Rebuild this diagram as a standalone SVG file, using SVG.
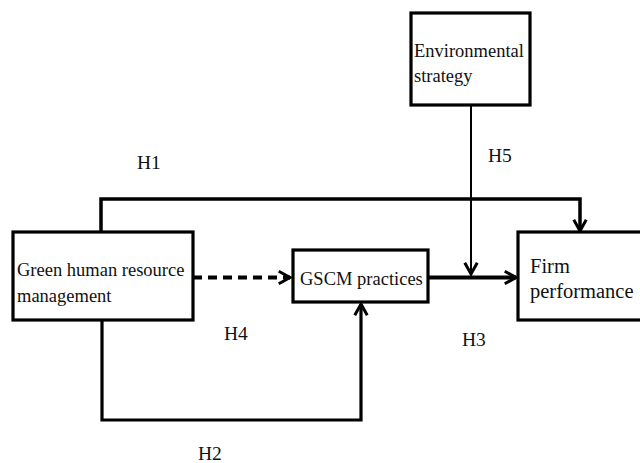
<svg xmlns="http://www.w3.org/2000/svg" width="640" height="463" viewBox="0 0 640 463">
<style>
.box{fill:#fff;stroke:#000;stroke-width:3.2}
.t{font-family:"Liberation Serif","Times New Roman",serif;font-size:18.5px;fill:#111}
.big{font-size:20.5px}
.lbl{font-family:"Liberation Serif","Times New Roman",serif;font-size:19.5px;fill:#111}
.c{fill:none;stroke:#000;stroke-linejoin:miter}
</style>
<defs>
<marker id="arr" markerUnits="userSpaceOnUse" markerWidth="20" markerHeight="20" refX="0" refY="0" orient="auto" viewBox="-12 -8 14 16" style="overflow:visible">
<path d="M-9,-5 L0,0 L-9,5" fill="none" stroke="#000" stroke-width="2.4"/>
</marker>
</defs>
<g id="connectors">
<path id="h1" class="c" d="M101,232 V199 H580 V231" stroke-width="3.5" marker-end="url(#arr)"/>
<path id="h5" class="c" d="M471,105 V274" stroke-width="2" marker-end="url(#arr)"/>
<path id="h3" class="c" d="M428,277.5 H516" stroke-width="4" marker-end="url(#arr)"/>
<path id="h4" class="c" d="M193,277.5 H290" stroke-width="4" stroke-dasharray="9,6" marker-end="url(#arr)"/>
<path id="h2" class="c" d="M102,320 V420 H361 V304" stroke-width="3.2" marker-end="url(#arr)"/>
</g>
<g id="env">
<rect class="box" x="411" y="13" width="119" height="92"/>
<text class="t" x="414" y="57">Environmental</text>
<text class="t" x="414" y="82">strategy</text>
</g>
<g id="ghrm">
<rect class="box" x="13" y="232" width="180" height="88"/>
<text class="t" x="17" y="276">Green human resource</text>
<text class="t" x="17" y="302">management</text>
</g>
<g id="gscm">
<rect class="box" x="293" y="250" width="135" height="52"/>
<text class="t" x="300" y="285">GSCM practices</text>
</g>
<g id="firm">
<rect class="box" x="518" y="232" width="130" height="88"/>
<text class="t big" x="530" y="273">Firm</text>
<text class="t big" x="530" y="298">performance</text>
</g>
<g id="labels">
<text class="lbl" x="137" y="169">H1</text>
<text class="lbl" x="488" y="162">H5</text>
<text class="lbl" x="462" y="346">H3</text>
<text class="lbl" x="224" y="340">H4</text>
<text class="lbl" x="198" y="460">H2</text>
</g>
</svg>
